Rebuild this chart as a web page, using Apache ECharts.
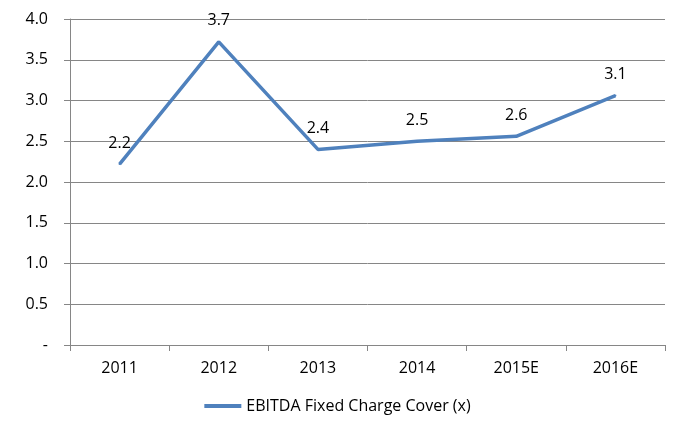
<!DOCTYPE html>
<html>
<head>
<meta charset="utf-8">
<script src="https://cdn.jsdelivr.net/npm/echarts@6/dist/echarts.min.js"></script>
<style>
  * { margin: 0; padding: 0; }
  body { background: #fff; }
</style>
</head>
<body>
<div id="chart" style="width: 675px;height: 422px;"></div>
<script>
// categories and values
var years = ['2011', '2012', '2013', '2014', '2015E', '2016E'];
var cover = [2.22, 3.72, 2.40, 2.50, 2.56, 3.06];
var seriesName = 'EBITDA Fixed Charge Cover (x)';

var font = '"Open Sans", "Noto Sans", sans-serif';
var blue = '#4F81BD';
var chart = echarts.init(document.getElementById('chart'));
chart.setOption({
  animation: false,
  textStyle: { fontFamily: font },
  grid: { left: 70, right: 10, top: 19, bottom: 77 },
  legend: {
    bottom: 3,
    left: 'center',
    itemWidth: 37,
    itemHeight: 4,
    itemGap: 5,
    textStyle: { fontSize: 16, color: '#000', fontFamily: font },
    data: [{ name: seriesName, icon: 'rect', itemStyle: { color: blue, opacity: 1 } }]
  },
  xAxis: {
    type: 'category',
    data: years,
    axisLine: { lineStyle: { color: '#868686', width: 1 } },
    axisTick: { show: true, length: 6, lineStyle: { color: '#868686' } },
    axisLabel: { color: '#000', fontSize: 16, margin: 15 }
  },
  yAxis: {
    type: 'value',
    min: 0,
    max: 4,
    interval: 0.5,
    axisLine: { show: true, lineStyle: { color: '#868686', width: 1 } },
    axisTick: { show: true, length: 6, lineStyle: { color: '#868686' } },
    splitLine: { lineStyle: { color: '#868686', width: 1 } },
    axisLabel: {
      color: '#000',
      fontSize: 16,
      margin: 22,
      formatter: function (v) { return v === 0 ? '-' : v.toFixed(1); }
    }
  },
  series: [
    {
      name: seriesName,
      type: 'line',
      data: cover,
      symbol: 'circle',
      symbolSize: 2,
      showSymbol: true,
      lineStyle: { color: blue, width: 3.5 },
      itemStyle: { color: blue },
      label: {
        show: true,
        position: 'top',
        distance: 12,
        color: '#000',
        fontSize: 16,
        formatter: function (p) { return p.value.toFixed(1); }
      }
    }
  ]
});
</script>
</body>
</html>
